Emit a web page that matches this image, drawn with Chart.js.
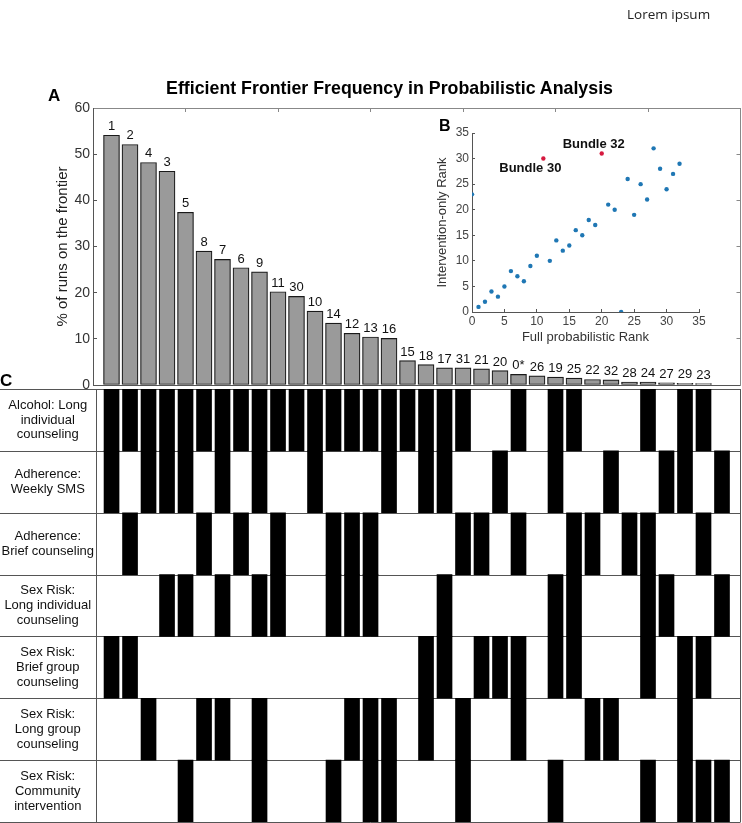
<!DOCTYPE html>
<html><head><meta charset="utf-8">
<script src="https://cdn.jsdelivr.net/npm/chart.js@4.4.1/dist/chart.umd.min.js"></script>
<style>
html,body{margin:0;padding:0;background:#fff;}
#wrap{position:relative;width:742px;height:823px;overflow:hidden;font-family:"Liberation Sans",Arial,sans-serif;background:#fff;}
canvas{position:absolute;}
.t{position:absolute;white-space:nowrap;color:#000;line-height:1;}
#lorem{left:627px;top:8px;font-family:"Open Sans",sans-serif;font-size:13.5px;color:#222;}
#title{left:389.5px;top:80px;transform:translateX(-50%);font-weight:bold;font-size:17.8px;}
#la{left:48px;top:87px;font-weight:bold;font-size:17px;}
#lb{left:439px;top:118px;font-weight:bold;font-size:16px;}
#lc{left:0px;top:372px;font-weight:bold;font-size:17px;}
</style></head><body>
<div id="wrap">
<canvas id="cA" width="742" height="389" style="left:0;top:0"></canvas>
<canvas id="cC" width="742" height="438" style="left:0;top:385px"></canvas>
<canvas id="cB" width="320" height="250" style="left:400px;top:100px"></canvas>
<div class="t" id="lorem">Lorem ipsum</div>
<div class="t" id="title">Efficient Frontier Frequency in Probabilistic Analysis</div>
<div class="t" id="la">A</div><div class="t" id="lb">B</div><div class="t" id="lc">C</div>
</div>
<script>
// ---- Panel A data ----
const bundleLabels = ['1','2','4','3','5','8','7','6','9','11','30','10','14','12','13','16','15','18','17','31','21','20','0*','26','19','25','22','32','28','24','27','29','23'];
const frontierPct = [54.1,52.1,48.2,46.3,37.4,29.0,27.2,25.4,24.5,20.2,19.2,16.0,13.4,11.2,10.4,10.1,5.3,4.4,3.7,3.7,3.5,3.1,2.3,2.0,1.7,1.5,1.2,1.1,0.65,0.65,0.45,0.35,0.3];
const yTickStepA = 10;

// ---- Panel B data ----
const fullRank = [0,1,2,3,4,5,6,7,8,9,10,11,12,13,14,15,16,17,18,19,20,21,22,23,24,25,26,27,28,29,30,31,32];
const interventionRank = [23,1,2,4,3,5,8,7,6,9,11,30,10,14,12,13,16,15,18,17,31,21,20,0,26,19,25,22,32,28,24,27,29];
const highlightedRanks = [11,20];
const highlightNames = ['Bundle 30','Bundle 32'];

// ---- Panel C data (column positions of filled cells, per intervention) ----
const interventionLabels = [
  ['Alcohol: Long','individual','counseling'],
  ['Adherence:','Weekly SMS'],
  ['Adherence:','Brief counseling'],
  ['Sex Risk:','Long individual','counseling'],
  ['Sex Risk:','Brief group','counseling'],
  ['Sex Risk:','Long group','counseling'],
  ['Sex Risk:','Community','intervention']
];
const alcoholLong   = [1,2,3,4,5,6,7,8,9,10,11,12,13,14,15,16,17,18,19,20,23,25,26,30,32,33];
const adherenceSMS  = [1,3,4,5,7,9,12,16,18,19,22,25,28,31,32,34];
const adherenceBrief= [2,6,8,10,13,14,15,20,21,23,26,27,29,30,33];
const sexLongIndiv  = [4,5,7,9,10,13,14,15,19,25,26,30,31,34];
const sexBriefGroup = [1,2,18,19,21,22,23,25,26,30,32,33];
const sexLongGroup  = [3,6,7,9,14,15,16,18,20,23,27,28,32];
const sexCommunity  = [5,9,13,15,16,20,25,30,32,33,34];
const matrixRows = [alcoholLong, adherenceSMS, adherenceBrief, sexLongIndiv, sexBriefGroup, sexLongGroup, sexCommunity];

const FONT = '"Liberation Sans", Arial, sans-serif';
Chart.defaults.font.family = FONT;
const noPadY = s => { s.paddingTop = 0; s.paddingBottom = 0; };
const noPadX = s => { s.paddingLeft = 0; s.paddingRight = 0; };

// ---- Panel A ----
const barLabelPlugin = {
  id: 'barLabels',
  afterDatasetsDraw(chart) {
    const ctx = chart.ctx, meta = chart.getDatasetMeta(0);
    ctx.save();
    ctx.font = '13px ' + FONT;
    ctx.fillStyle = '#111';
    ctx.textAlign = 'center';
    ctx.textBaseline = 'alphabetic';
    meta.data.forEach((el, i) => ctx.fillText(bundleLabels[i], el.x, el.y - 5));
    ctx.restore();
  }
};
new Chart(document.getElementById('cA'), {
  type: 'bar',
  data: { datasets: [{
    data: frontierPct.map((v, i) => ({ x: i + 1, y: v })),
    backgroundColor: '#9a9a9a', borderColor: '#1a1a1a', borderWidth: 1.2,
    barThickness: 16, borderSkipped: false
  }]},
  options: {
    responsive: false, animation: false, devicePixelRatio: 1,
    layout: { padding: { top: 108, left: 0, right: 1.5, bottom: 4 } },
    plugins: { legend: { display: false }, tooltip: { enabled: false } },
    scales: {
      x: { type: 'linear', min: 0, max: 35, position: 'bottom', offset: false,
           ticks: { display: false }, grid: { display: false, drawTicks: false, offset: false },
           border: { display: true, color: '#555' }, afterFit: s => { s.height = 0; noPadX(s); } },
      x2: { type: 'linear', min: 0, max: 35, position: 'top', offset: false,
            ticks: { display: false, stepSize: 5 },
            grid: { drawOnChartArea: false, tickLength: -4, color: '#888', offset: false },
            border: { color: '#888' }, afterFit: s => { s.height = 0; noPadX(s); } },
      y: { min: 0, max: 60, position: 'left',
           ticks: { stepSize: yTickStepA, color: '#333', font: { size: 14 }, padding: 7 },
           grid: { drawOnChartArea: false, tickLength: -4, color: '#555' },
           border: { color: '#555' },
           title: { display: true, text: '% of runs on the frontier', color: '#222',
                    font: { size: 15 }, padding: { top: 54, bottom: 0 } },
           afterFit: s => { s.width = 93; noPadY(s); } },
      y2: { min: 0, max: 60, position: 'right',
            ticks: { display: false, stepSize: yTickStepA },
            grid: { drawOnChartArea: false, tickLength: -4, color: '#888' },
            border: { color: '#888' }, afterFit: s => { s.width = 0; noPadY(s); } }
    }
  },
  plugins: [barLabelPlugin]
});

// ---- Panel B ----
const annotPlugin = {
  id: 'annot',
  afterDatasetsDraw(chart) {
    const ctx = chart.ctx, sx = chart.scales.x, sy = chart.scales.y;
    const offs = [[-13, 10], [-8, -9]];
    ctx.save();
    ctx.font = 'bold 13px ' + FONT;
    ctx.fillStyle = '#111';
    ctx.textAlign = 'center';
    ctx.textBaseline = 'middle';
    highlightedRanks.forEach((r, k) => {
      const i = fullRank.indexOf(r);
      ctx.fillText(highlightNames[k], sx.getPixelForValue(r) + offs[k][0], sy.getPixelForValue(interventionRank[i]) + offs[k][1]);
    });
    ctx.restore();
  }
};
new Chart(document.getElementById('cB'), {
  type: 'scatter',
  data: { datasets: [{
    data: fullRank.map((x, i) => ({ x: x, y: interventionRank[i] })),
    pointRadius: 2.2, pointBorderWidth: 0,
    pointBackgroundColor: fullRank.map(x => highlightedRanks.includes(x) ? '#d6193f' : '#1f77b4')
  }]},
  options: {
    responsive: false, animation: false, devicePixelRatio: 1,
    layout: { padding: { top: 33, left: 0, right: 21, bottom: 0 } },
    plugins: { legend: { display: false }, tooltip: { enabled: false } },
    scales: {
      x: { type: 'linear', min: 0, max: 35,
           ticks: { stepSize: 5, color: '#444', font: { size: 12 }, padding: 5, maxRotation: 0 },
           grid: { drawOnChartArea: false, tickLength: -3, color: '#555' },
           border: { color: '#555' },
           title: { display: true, text: 'Full probabilistic Rank', color: '#333', font: { size: 13 }, padding: { top: 0, bottom: 5 } },
           afterFit: s => { s.height = 38; } },
      y: { type: 'linear', min: 0, max: 35,
           ticks: { stepSize: 5, color: '#444', font: { size: 12 }, padding: 6 },
           grid: { drawOnChartArea: false, tickLength: -3, color: '#555' },
           border: { color: '#555' },
           title: { display: true, text: 'Intervention-only Rank', color: '#333', font: { size: 13 }, padding: { top: 35, bottom: 0 } },
           afterFit: s => { s.width = 72; } }
    }
  },
  plugins: [annotPlugin]
});

// ---- Panel C ----
const gridPlugin = {
  id: 'matrixGrid',
  beforeDatasetsDraw(chart) {
    const ctx = chart.ctx, ys = chart.scales.y, a = chart.chartArea;
    ctx.save();
    ctx.strokeStyle = '#555';
    ctx.lineWidth = 1;
    ctx.beginPath();
    for (let i = 0; i <= interventionLabels.length; i++) {
      const y = Math.round(ys.getPixelForValue(i)) + 0.5;
      ctx.moveTo(0, y); ctx.lineTo(a.right, y);
    }
    const l = Math.round(a.left) + 0.5, r = Math.round(a.right) - 0.5;
    ctx.moveTo(l, a.top); ctx.lineTo(l, a.bottom);
    ctx.moveTo(r, a.top); ctx.lineTo(r, a.bottom);
    ctx.stroke();
    ctx.restore();
  }
};
new Chart(document.getElementById('cC'), {
  type: 'bar',
  data: { datasets: matrixRows.map((cols, r) => ({
    data: cols.map(c => ({ x: c, y: [r, r + 1] })),
    backgroundColor: '#000', borderWidth: 0, barThickness: 15, grouped: false
  }))},
  options: {
    responsive: false, animation: false, devicePixelRatio: 1,
    layout: { padding: { top: 4, left: 0, right: 1.5, bottom: 1 } },
    plugins: { legend: { display: false }, tooltip: { enabled: false } },
    scales: {
      x: { type: 'linear', min: 0.16, max: 35, display: false, offset: false, grid: { offset: false } },
      y: { type: 'linear', min: 0, max: 7, reverse: true,
           afterBuildTicks: s => { s.ticks = interventionLabels.map((_, i) => ({ value: i + 0.5 })); },
           ticks: { callback: (v, i) => interventionLabels[i], color: '#111', autoSkip: false,
                    font: { size: 13, lineHeight: 1.15 }, crossAlign: 'center', padding: 2 },
           grid: { display: false, drawTicks: false }, border: { display: false },
           afterFit: s => { s.width = 96; noPadY(s); } }
    }
  },
  plugins: [gridPlugin]
});
</script>
</body></html>
